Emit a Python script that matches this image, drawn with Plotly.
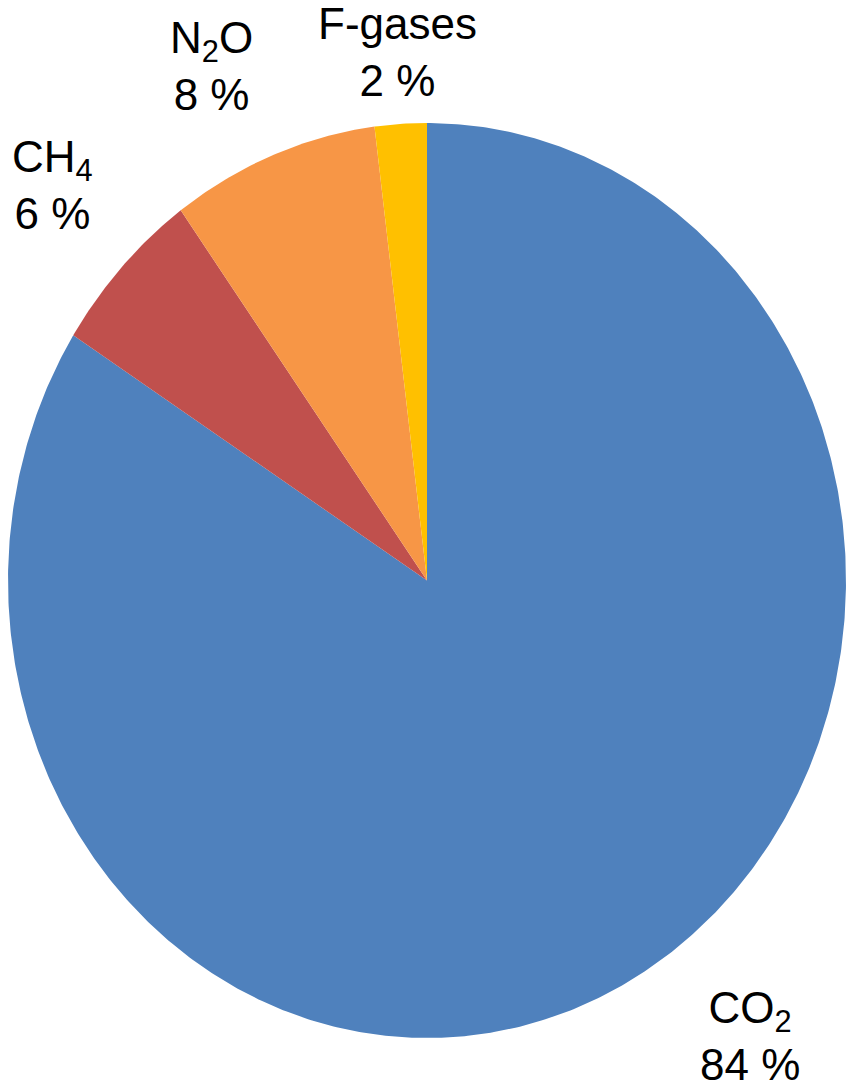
import numpy as np
import plotly.graph_objects as go

# Share of greenhouse gas emissions (%)
gases = ["CO<sub>2</sub>", "CH<sub>4</sub>", "N<sub>2</sub>O", "F-gases"]
shares = [84, 6, 8, 2]
colors = ["#4F81BD", "#C0504D", "#F79646", "#FFC000"]

# label anchor points (pixel space) for each gas
label_x = [750, 52, 211, 397]
label_y = [1036, 185, 66, 52]

W, H = 849, 1088
cx, cy = 427, 580.5      # pie centre
rx, ry = 419, 457.5      # horizontal / vertical radius

fig = go.Figure()

total = sum(shares)
start = 0.0
for name, val, col in zip(gases, shares, colors):
    frac0 = start / total
    frac1 = (start + val) / total
    # angles measured clockwise from 12 o'clock
    t = np.linspace(frac0, frac1, max(int(val * 8), 12)) * 2 * np.pi
    xs = np.concatenate([[cx], cx + rx * np.sin(t), [cx]])
    ys = np.concatenate([[cy], cy - ry * np.cos(t), [cy]])
    fig.add_trace(go.Scatter(
        x=xs, y=ys, mode="lines", fill="toself",
        fillcolor=col, line=dict(width=0, color=col),
        hoverinfo="skip", showlegend=False,
    ))
    start += val

for name, val, lx, ly in zip(gases, shares, label_x, label_y):
    fig.add_annotation(
        x=lx, y=ly, xref="x", yref="y",
        text=f"{name}<br>{val} %", showarrow=False,
        font=dict(family="Liberation Sans, Arial, sans-serif", size=44, color="#000000"),
        align="center", xanchor="center", yanchor="middle",
    )

fig.update_layout(
    width=W, height=H,
    margin=dict(l=0, r=0, t=0, b=0),
    paper_bgcolor="white", plot_bgcolor="white",
    xaxis=dict(range=[0, W], visible=False, fixedrange=True),
    yaxis=dict(range=[H, 0], visible=False, fixedrange=True),
)

fig.write_html("out.html")
